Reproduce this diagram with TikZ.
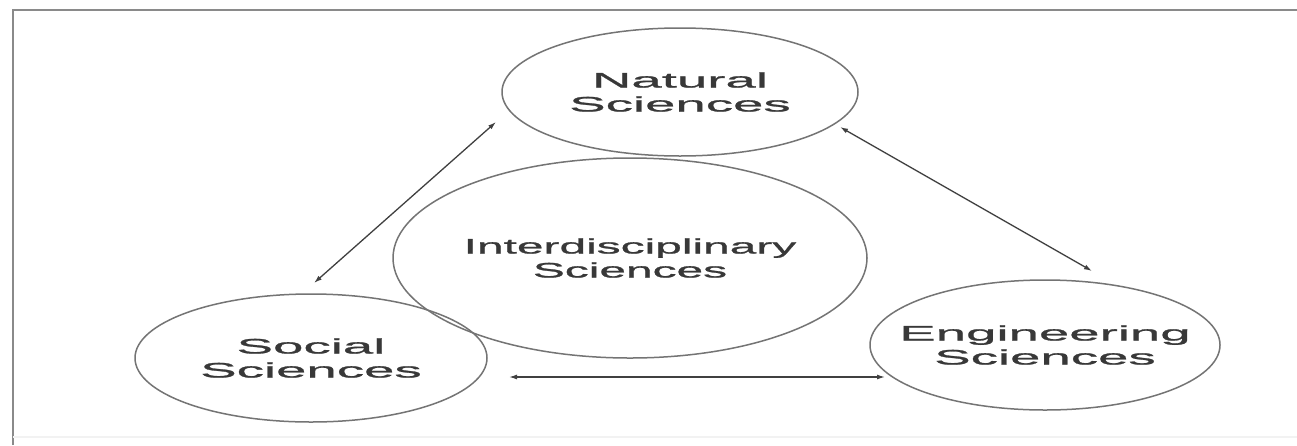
\documentclass[tikz,border=0pt]{standalone}
\usepackage{fontspec}
\usetikzlibrary{shapes.geometric,arrows.meta}
% wide sans faces for the labels
\newfontfamily\outerfont[FakeStretch=2.6,FakeBold=1.2]{Liberation Sans}
\newfontfamily\innerfont[FakeStretch=2.28,FakeBold=1.2]{Liberation Sans}
\definecolor{framegray}{HTML}{8A8A8A}
\definecolor{ringgray}{HTML}{747474}
\definecolor{textgray}{HTML}{383838}
\definecolor{arrowgray}{HTML}{404040}
\begin{document}
\begin{tikzpicture}[x=1pt,y=-1pt,
  field/.style={ellipse, draw=ringgray, line width=1.5pt, inner sep=0pt},
  fieldtext/.style={align=center, text=textgray, inner sep=0pt,
    font=\outerfont\fontsize{21}{24}\selectfont},
  coretext/.style={fieldtext, font=\innerfont\fontsize{21}{24}\selectfont},
  link/.style={draw=arrowgray, line width=1.3pt,
    {Latex[length=8pt,width=5pt]}-{Latex[length=8pt,width=5pt]}}]
  \useasboundingbox (0,0) rectangle (1297,445);
  \fill[white] (0,0) rectangle (1297,445);

  % page frame
  \draw[framegray, line width=2.2pt] (13,445) -- (13,10) -- (1297,10);
  \draw[black!5, line width=1.5pt] (13,437) -- (1297,437);

  % the four fields: fixed rings, names set in their middle
  \node[field, minimum width=356pt, minimum height=128pt,
    label={[fieldtext]center:Natural\\Sciences}] (nat) at (680,92) {};
  \node[field, minimum width=474pt, minimum height=200pt,
    label={[coretext]center:Interdisciplinary\\Sciences}] (inter) at (630,258) {};
  \node[field, minimum width=352pt, minimum height=128pt,
    label={[fieldtext]center:Social\\Sciences}] (soc) at (311,358) {};
  \node[field, minimum width=350pt, minimum height=130pt,
    label={[fieldtext]center:Engineering\\Sciences}] (eng) at (1045,345) {};

  % arrow ends, set a little apart from the rings
  \coordinate (natL) at (496,122);
  \coordinate (socT) at (314,283);
  \coordinate (natR) at (840,127);
  \coordinate (engT) at (1092,271);
  \coordinate (socR) at (509,377);
  \coordinate (engL) at (885,377);

  \draw[link] (natL) -- (socT);
  \draw[link] (natR) -- (engT);
  \draw[link] (socR) -- (engL);
\end{tikzpicture}
\end{document}
